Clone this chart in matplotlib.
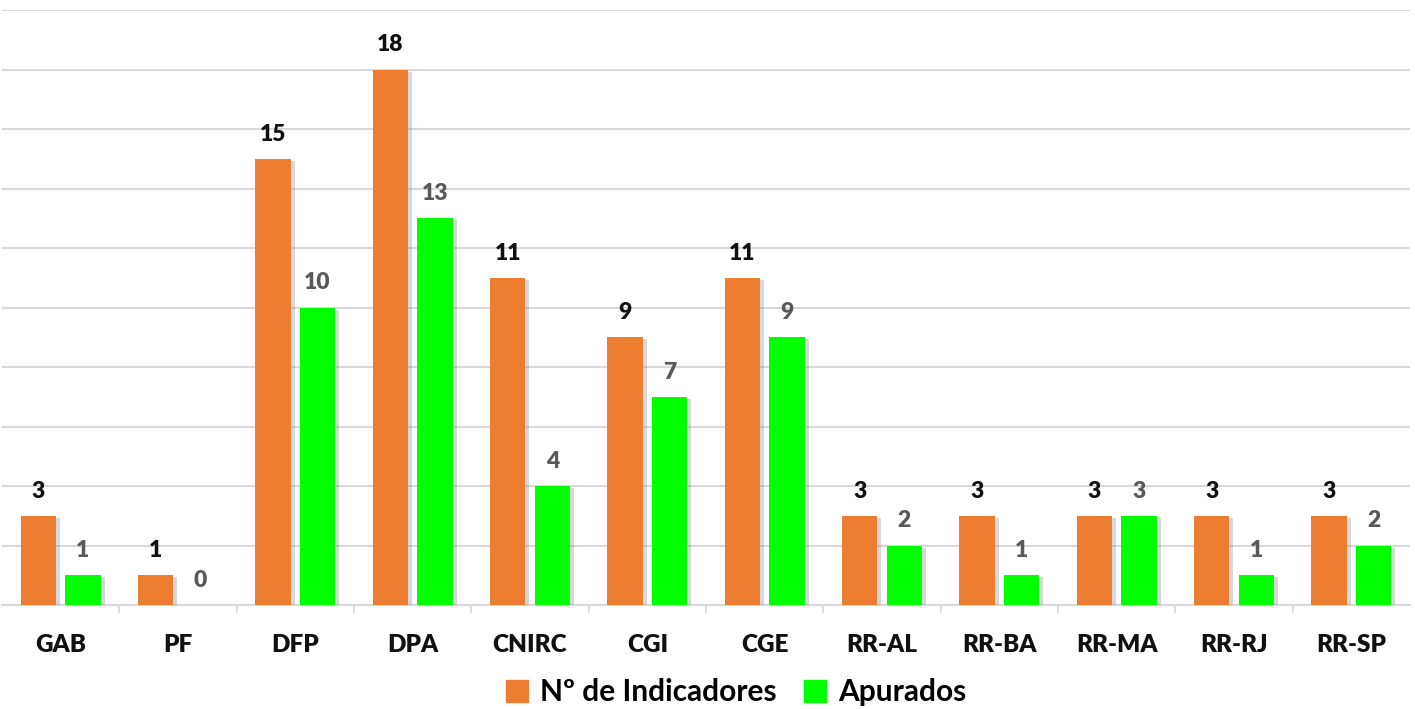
import matplotlib.pyplot as plt
import matplotlib.patheffects as pe
from matplotlib.patches import Patch
import numpy as np

categorias = ["GAB", "PF", "DFP", "DPA", "CNIRC", "CGI", "CGE",
              "RR-AL", "RR-BA", "RR-MA", "RR-RJ", "RR-SP"]
indicadores = [3, 1, 15, 18, 11, 9, 11, 3, 3, 3, 3, 3]
apurados = [1, 0, 10, 13, 4, 7, 9, 2, 1, 3, 1, 2]

plt.rcParams["font.family"] = ["Lato", "DejaVu Sans"]

fig = plt.figure(figsize=(14.15, 7.09), dpi=100)
ax = fig.add_axes([2 / 1415, 1 - 605 / 709, 1408 / 1415, 595 / 709])

x = np.arange(len(categorias))
w = 0.30
d = 0.19
sombra = [pe.SimplePatchShadow(offset=(3, -1.5), shadow_rgbFace="gray", alpha=0.3), pe.Normal()]

b1 = ax.bar(x - d, indicadores, w, color="#ED7D31", zorder=3)
b2 = ax.bar(x + d, apurados, w, color="#00FF00", zorder=3)
for b in list(b1) + list(b2):
    b.set_path_effects(sombra)

for xi, v in zip(x - d, indicadores):
    ax.annotate(str(v), (xi, v), xytext=(0, 13), textcoords="offset points",
                ha="center", va="baseline", fontsize=16.5, fontweight="heavy", color="#111111")
for xi, v in zip(x + d, apurados):
    ax.annotate(str(v), (xi, v), xytext=(0, 13), textcoords="offset points",
                ha="center", va="baseline", fontsize=16.5, fontweight="heavy", color="#595959")

ax.set_xlim(-0.5, len(categorias) - 0.5)
ax.set_ylim(0, 20)
ax.set_yticks(np.arange(0, 21, 2))
ax.yaxis.grid(True, color="#d9d9d9", linewidth=1.5, zorder=0)
ax.tick_params(axis="y", left=False, labelleft=False)

ax.set_xticks(x)
ax.set_xticklabels(categorias, fontsize=17.5, fontweight="heavy", color="#111111")
ax.tick_params(axis="x", length=0, pad=21)
ax.set_xticks(np.arange(0.5, len(categorias) - 0.5, 1), minor=True)
ax.tick_params(axis="x", which="minor", length=6, width=1.2, color="#d9d9d9")

for s in ["top", "left", "right"]:
    ax.spines[s].set_visible(False)
ax.spines["bottom"].set_color("#d9d9d9")
ax.spines["bottom"].set_linewidth(1.5)

handles = [Patch(color="#ED7D31", label="Nº de Indicadores"),
           Patch(color="#00FF00", label="Apurados")]
fig.legend(handles=handles, loc="center", bbox_to_anchor=(736 / 1415, 1 - 692 / 709), ncol=2,
           frameon=False, prop={"size": 21.5, "weight": "bold"},
           handlelength=0.75, handleheight=0.75, handletextpad=0.4, columnspacing=0.9)

fig.savefig("out.png", dpi=100)
